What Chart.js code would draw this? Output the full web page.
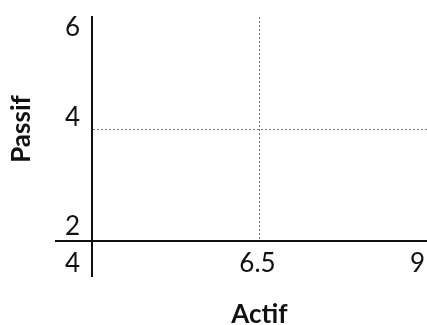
<!DOCTYPE html>
<html>
<head>
<meta charset="utf-8">
<script src="https://cdn.jsdelivr.net/npm/chart.js@4.4.1/dist/chart.umd.min.js"></script>
<style>
  html, body { margin: 0; padding: 0; background: #ffffff; }
  #c { display: block; }
</style>
</head>
<body>
<canvas id="c" width="427" height="325"></canvas>
<script>
// ---- data ----
const xTitle = 'Actif';
const yTitle = 'Passif';
const xTicks = [4, 6.5, 9];
const yTicks = [2, 4, 6];
const xRefLine = 6.5;   // dotted vertical reference line
const yRefLine = 4;     // dotted horizontal reference line
const points = [];      // the reference shows no data marks

// ---- styling ----
const FONT = 'Lato';
const INK = '#111111';
const GRID = '#777777';
const NONE = 'rgba(0,0,0,0)';

Chart.defaults.font.family = FONT;
Chart.defaults.color = INK;

const xMin = xTicks[0], xMax = xTicks[xTicks.length - 1];
const yMin = yTicks[0], yMax = yTicks[yTicks.length - 1];

new Chart(document.getElementById('c'), {
  type: 'scatter',
  data: { datasets: [{ data: points }] },
  options: {
    responsive: false,
    animation: false,
    layout: { padding: { top: 17, left: 0, right: 0, bottom: 0 } },
    plugins: { legend: { display: false }, tooltip: { enabled: false } },
    scales: {
      x: {
        type: 'linear', position: 'bottom', min: xMin, max: xMax,
        afterBuildTicks: s => { s.ticks = xTicks.map(v => ({ value: v })); },
        ticks: {
          align: 'inner', labelOffset: -2, padding: -28.6, autoSkip: false, maxRotation: 0,
          color: INK, font: { family: FONT, size: 26 },
          callback: (v, i) => i === 0 ? '' : String(v)
        },
        grid: {
          color: c => (c.tick && c.tick.value === xRefLine) ? GRID : NONE,
          lineWidth: c => c.index === 0 ? 2 : 1,
          tickLength: 36, tickWidth: 2,
          tickColor: c => c.index === 0 ? INK : NONE
        },
        border: { display: true, color: INK, width: 2, dash: [2, 2] },
        title: {
          display: true, text: xTitle, color: INK,
          font: { family: FONT, size: 26, weight: 'bold', lineHeight: 1 },
          padding: { top: 0, bottom: -3 }
        },
        afterFit: s => { s.height = 84; s.paddingLeft = 0; s.paddingRight = 0; }
      },
      x4: {
        type: 'linear', axis: 'x', position: { y: yMin }, min: xMin, max: xMax,
        afterBuildTicks: s => { s.ticks = xTicks.map(v => ({ value: v })); },
        ticks: {
          align: 'end', labelOffset: -12, padding: 7, autoSkip: false, maxRotation: 0,
          color: INK, font: { family: FONT, size: 26 },
          callback: (v, i) => i === 0 ? String(v) : ''
        },
        grid: { display: false, drawTicks: false },
        border: { display: false },
        afterFit: s => { s.paddingLeft = 0; s.paddingRight = 0; }
      },
      y: {
        type: 'linear', position: 'left', min: yMin, max: yMax,
        afterBuildTicks: s => { s.ticks = yTicks.map(v => ({ value: v })); },
        ticks: {
          padding: -25, autoSkip: false, color: INK, crossAlign: 'near',
          font: c => ({ family: FONT, size: 26, lineHeight: c.index === 0 ? '28px' : '22px' }),
          callback: (v, i, arr) => i === arr.length - 1 ? ['', String(v)] : [String(v), '']
        },
        grid: {
          color: c => (c.tick && c.tick.value === yRefLine) ? GRID : NONE,
          lineWidth: c => c.index === 0 ? 2 : 1,
          tickLength: 37, tickWidth: 2,
          tickColor: c => c.index === 0 ? INK : NONE
        },
        border: { display: true, color: INK, width: 2, dash: [2, 2] },
        title: {
          display: true, text: yTitle, color: INK,
          font: { family: FONT, size: 26, weight: 'bold', lineHeight: 1 },
          padding: { top: 9, bottom: 0 }
        },
        afterFit: s => { s.width = 92; s.paddingTop = 0; s.paddingBottom = 0; }
      }
    }
  }
});
</script>
</body>
</html>
